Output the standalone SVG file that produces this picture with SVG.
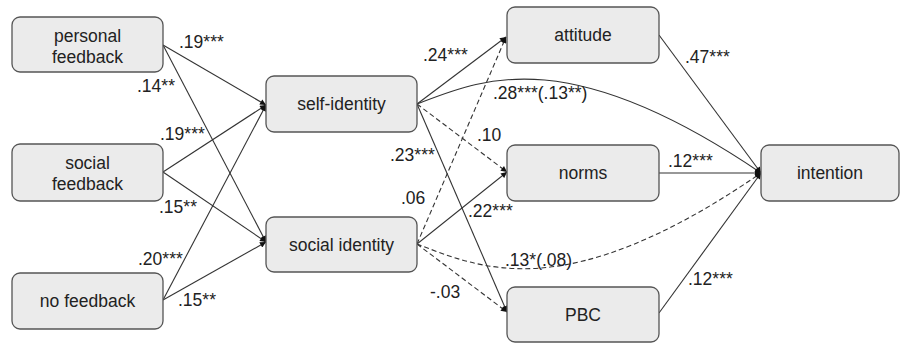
<svg xmlns="http://www.w3.org/2000/svg" width="903" height="344" viewBox="0 0 903 344">
<defs>
<style>
.box{fill:#ebebeb;stroke:#555;stroke-width:1.3}
.t{font-family:"Liberation Sans",Arial,sans-serif;font-size:17.5px;fill:#222;text-anchor:middle}
.l{font-family:"Liberation Sans",Arial,sans-serif;font-size:17.5px;fill:#222}
.c{fill:none;stroke:#333;stroke-width:1.1;marker-end:url(#ah)}
.d{stroke-dasharray:5 3}
</style>
<marker id="ah" viewBox="0 0 10 10" refX="10" refY="5" markerWidth="7" markerHeight="6" markerUnits="userSpaceOnUse" orient="auto">
<path d="M0,0 L10,5 L0,10 z" fill="#111"/>
</marker>
</defs>
<rect width="903" height="344" fill="#fff"/>
<g id="connectors">
<line class="c" x1="163" y1="45" x2="266" y2="105"/>
<line class="c" x1="163" y1="45" x2="266" y2="242"/>
<line class="c" x1="163" y1="172" x2="266" y2="105"/>
<line class="c" x1="163" y1="172" x2="266" y2="242"/>
<line class="c" x1="163" y1="300" x2="266" y2="105"/>
<line class="c" x1="163" y1="300" x2="266" y2="242"/>
<line class="c" x1="417" y1="104" x2="506" y2="37"/>
<line class="c d" x1="417" y1="104" x2="507" y2="172"/>
<line class="c" x1="417" y1="104" x2="507" y2="312"/>
<path class="c" d="M417,104 C480,80 565,40 761,173"/>
<line class="c d" x1="417" y1="244" x2="506" y2="37"/>
<line class="c" x1="417" y1="244" x2="507" y2="172"/>
<line class="c d" x1="417" y1="244" x2="507" y2="312"/>
<path class="c d" d="M417,244 C480,268 565,308 761,173"/>
<line class="c" x1="659" y1="35" x2="761" y2="173"/>
<line class="c" x1="659" y1="173" x2="761" y2="173"/>
<line class="c" x1="659" y1="313" x2="761" y2="173"/>
</g>
<g id="labels">
<text class="l" x="179" y="48">.19***</text>
<text class="l" x="137" y="92">.14**</text>
<text class="l" x="160" y="140">.19***</text>
<text class="l" x="159" y="213">.15**</text>
<text class="l" x="138" y="265">.20***</text>
<text class="l" x="178" y="306">.15**</text>
<text class="l" x="423" y="61">.24***</text>
<text class="l" x="493" y="99">.28***(.13**)</text>
<text class="l" x="477" y="141">.10</text>
<text class="l" x="390" y="161">.23***</text>
<text class="l" x="401" y="204">.06</text>
<text class="l" x="468" y="217">.22***</text>
<text class="l" x="505" y="266">.13*(.08)</text>
<text class="l" x="430" y="298">-.03</text>
<text class="l" x="685" y="63">.47***</text>
<text class="l" x="668" y="167">.12***</text>
<text class="l" x="688" y="285">.12***</text>
</g>
<g id="personal-feedback"><rect class="box" x="12" y="17" width="151" height="55" rx="8"/><text class="t" x="87.5" y="42">personal</text><text class="t" x="87.5" y="63">feedback</text></g>
<g id="social-feedback"><rect class="box" x="12" y="144" width="151" height="57" rx="8"/><text class="t" x="87.5" y="169">social</text><text class="t" x="87.5" y="190">feedback</text></g>
<g id="no-feedback"><rect class="box" x="12" y="273" width="151" height="56" rx="8"/><text class="t" x="87.5" y="307">no feedback</text></g>
<g id="self-identity"><rect class="box" x="266" y="76" width="151" height="56" rx="8"/><text class="t" x="341.5" y="110">self-identity</text></g>
<g id="social-identity"><rect class="box" x="266" y="217" width="151" height="55" rx="8"/><text class="t" x="341.5" y="251">social identity</text></g>
<g id="attitude"><rect class="box" x="507" y="7" width="152" height="56" rx="8"/><text class="t" x="583" y="41">attitude</text></g>
<g id="norms"><rect class="box" x="507" y="145" width="152" height="56" rx="8"/><text class="t" x="583" y="179">norms</text></g>
<g id="PBC"><rect class="box" x="507" y="287" width="152" height="55" rx="8"/><text class="t" x="583" y="321">PBC</text></g>
<g id="intention"><rect class="box" x="761" y="145" width="138" height="56" rx="8"/><text class="t" x="830" y="179">intention</text></g>
</svg>
